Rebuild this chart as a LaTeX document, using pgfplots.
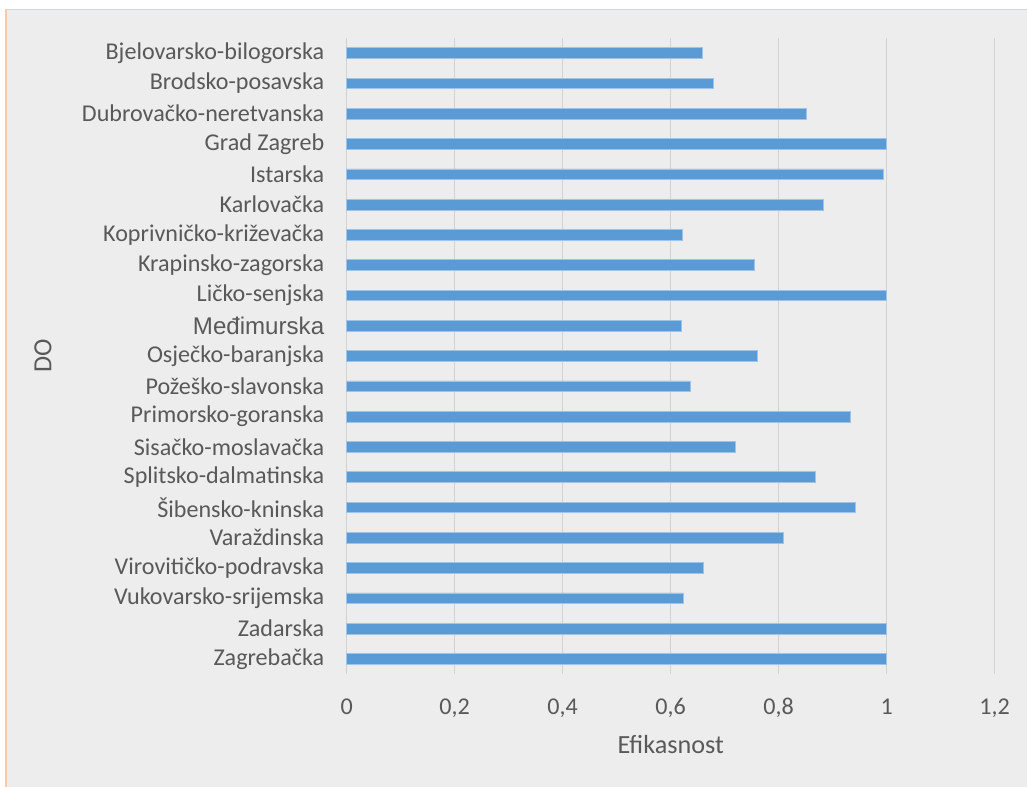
\documentclass[border=0pt]{standalone}
\usepackage{fontspec}
\setmainfont{Carlito}
\newfontfamily\arialfont{Liberation Sans}
\usepackage{pgfplots}
\pgfplotsset{compat=1.18}
\definecolor{txt}{HTML}{595959}
\definecolor{barblue}{HTML}{5B9BD5}
\definecolor{baredge}{HTML}{9DC3E6}
\definecolor{bg}{HTML}{EDEDED}
\definecolor{brd}{HTML}{F8CBAD}
\definecolor{gridgray}{HTML}{D2D2D2}
\begin{document}
\begin{tikzpicture}[x=1bp,y=1bp]
\useasboundingbox (0,0) rectangle (1027,787);
\fill[white] (0,0) rectangle (1027,787);
\fill[bg] (6,0) rectangle (1027,777.5);
\draw[brd, line width=1.5bp] (6,0) -- (6,777.5) -- (1027,777.5);
\begin{axis}[
  at={(346.7bp,113bp)}, anchor=south west,
  scale only axis, width=648bp, height=636bp,
  xbar, bar width=10.7bp,
  xmin=0, xmax=1.2,
  ymin=-0.5, ymax=20.5, y dir=reverse,
  xtick={0,0.2,0.4,0.6,0.8,1,1.2},
  ytick={0,...,20},
  yticklabels={Bjelovarsko-bilogorska,Brodsko-posavska,Dubrovačko-neretvanska,Grad Zagreb,Istarska,Karlovačka,Koprivničko-križevačka,Krapinsko-zagorska,Ličko-senjska,{\arialfont Međimurska},Osječko-baranjska,Požeško-slavonska,Primorsko-goranska,Sisačko-moslavačka,Splitsko-dalmatinska,Šibensko-kninska,Varaždinska,Virovitičko-podravska,Vukovarsko-srijemska,Zadarska,Zagrebačka},
  /pgf/number format/assume math mode=true,
  /pgf/number format/use comma,
  axis line style={draw=none},
  major tick length=0pt,
  xmajorgrids, ymajorgrids=false,
  major grid style={draw=gridgray, line width=1.5bp},
  tick label style={font=\fontsize{24.1bp}{28bp}\selectfont, text=txt},
  xticklabel style={yshift=-21bp},
  yticklabel style={xshift=-19bp},
  xlabel={Efikasnost}, ylabel={DO},
  label style={font=\fontsize{26.2bp}{30bp}\selectfont, text=txt},
  xlabel style={at={(axis description cs:0.5,-0.1116)}, anchor=center},
  ylabel style={at={(axis description cs:-0.4687,0.5)}, anchor=center},
  clip=false,
]
\addplot[fill=barblue, draw=baredge, line width=0.6bp] coordinates {
(0.658,0) (0.678,1) (0.852,2) (1.0,3) (0.994,4) (0.883,5) (0.622,6)
(0.755,7) (1.0,8) (0.619,9) (0.760,10) (0.636,11) (0.933,12) (0.720,13)
(0.867,14) (0.941,15) (0.809,16) (0.660,17) (0.623,18) (1.0,19) (1.0,20)
};
\end{axis}
\end{tikzpicture}
\end{document}
